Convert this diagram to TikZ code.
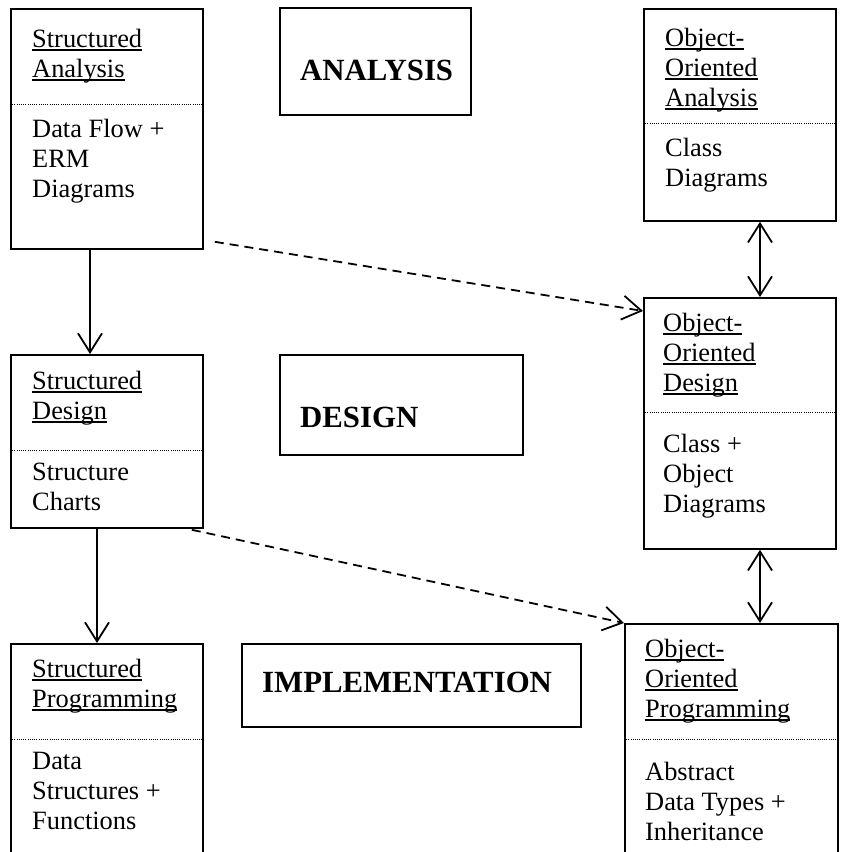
\documentclass[tikz,border=0pt]{standalone}
\usepackage{fontspec}
\setmainfont{Liberation Serif}
\usetikzlibrary{arrows.meta}
\newcommand\ulx[1]{\leavevmode\setbox0=\hbox{#1}\rlap{\rule[-3.5pt]{\wd0}{1.4pt}}\box0}
\newcommand\blk[1]{\parbox[t]{220pt}{\raggedright #1}}
\begin{document}
\begin{tikzpicture}[x=1pt,y=-1pt,
  box/.style={draw, line width=1.8pt, inner sep=0pt, anchor=north west},
  txt/.style={inner sep=0pt, anchor=base west, font=\fontsize{26.4}{30}\selectfont},
  big/.style={inner sep=0pt, anchor=base west, font=\fontsize{30.8}{36}\selectfont\bfseries},
  sepline/.style={line width=0.9pt, dash pattern=on 1pt off 1.2pt},
  tip/.style={-{Straight Barb[length=19pt,width=24pt,line width=1.8pt]}},
  dtip/.style={{Straight Barb[length=19pt,width=24pt,line width=1.8pt]}-{Straight Barb[length=19pt,width=24pt,line width=1.8pt]}},
  conn/.style={line width=1.8pt},
  dconn/.style={line width=1.8pt, dash pattern=on 9pt off 6pt}]
\useasboundingbox (0,0) rectangle (841,852);
\clip (0,0) rectangle (841,852);
% boxes
\node[box, minimum width=192pt, minimum height=240pt] (SA) at (10,8) {};
\node[box, minimum width=192pt, minimum height=173pt] (SD) at (10,354) {};
\node[box, minimum width=192pt, minimum height=230pt] (SP) at (10,643) {};
\node[box, minimum width=191pt, minimum height=107pt] (ANA) at (279,7) {};
\node[box, minimum width=243pt, minimum height=100pt] (DES) at (279,354) {};
\node[box, minimum width=339pt, minimum height=83pt] (IMP) at (241,643) {};
\node[box, minimum width=192pt, minimum height=212pt] (OOA) at (643,8) {};
\node[box, minimum width=192pt, minimum height=251pt] (OOD) at (643,297) {};
\node[box, minimum width=213pt, minimum height=250pt] (OOP) at (624,623) {};
% separators
\draw[sepline] (10,104) -- (202,104);
\draw[sepline] (10,450) -- (202,450);
\draw[sepline] (10,739) -- (202,739);
\draw[sepline] (643,123) -- (835,123);
\draw[sepline] (643,412) -- (835,412);
\draw[sepline] (624,739) -- (837,739);
% texts
\node[txt] (SAt) at (32,47) {\blk{\ulx{Structured}\\\ulx{Analysis}}};
\node[txt] (SAb) at (32,137) {\blk{Data Flow +\\ERM\\Diagrams}};
\node[txt] (SDt) at (32,389) {\blk{\ulx{Structured}\\\ulx{Design}}};
\node[txt] (SDb) at (32,480) {\blk{Structure\\Charts}};
\node[txt] (SPt) at (32,677) {\blk{\ulx{Structured}\\\ulx{Programming}}};
\node[txt] (SPb) at (32,769) {\blk{Data\\Structures +\\Functions}};
\node[big] (ANAt) at (300,80) {ANALYSIS};
\node[big] (DESt) at (300,427) {DESIGN};
\node[big] (IMPt) at (262,692) {IMPLEMENTATION};
\node[txt] (OOAt) at (665,46) {\blk{\ulx{Object-}\\\ulx{Oriented}\\\ulx{Analysis}}};
\node[txt] (OOAb) at (665,156) {\blk{Class\\Diagrams}};
\node[txt] (OODt) at (663,331) {\blk{\ulx{Object-}\\\ulx{Oriented}\\\ulx{Design}}};
\node[txt] (OODb) at (663,452) {\blk{Class +\\Object\\Diagrams}};
\node[txt] (OOPt) at (645,657) {\blk{\ulx{Object-}\\\ulx{Oriented}\\\ulx{Programming}}};
\node[txt] (OOPb) at (645,780) {\blk{Abstract\\Data Types +\\Inheritance}};
% connectors
\coordinate (xa) at (90,0);
\coordinate (xb) at (97,0);
\coordinate (xc) at (760,0);
\draw[conn, tip] (SA.south -| xa) -- (SD.north -| xa);
\draw[conn, tip] (SD.south -| xb) -- (SP.north -| xb);
\draw[conn, dtip] (OOA.south -| xc) -- (OOD.north -| xc);
\draw[conn, dtip] (OOD.south -| xc) -- (OOP.north -| xc);
\draw[dconn, tip] ([shift={(11,-8)}]SA.south east) -- ([shift={(0,14)}]OOD.north west);
\draw[dconn, tip] ([shift={(-12,1)}]SD.south east) -- (OOP.north west);
\end{tikzpicture}
\end{document}
